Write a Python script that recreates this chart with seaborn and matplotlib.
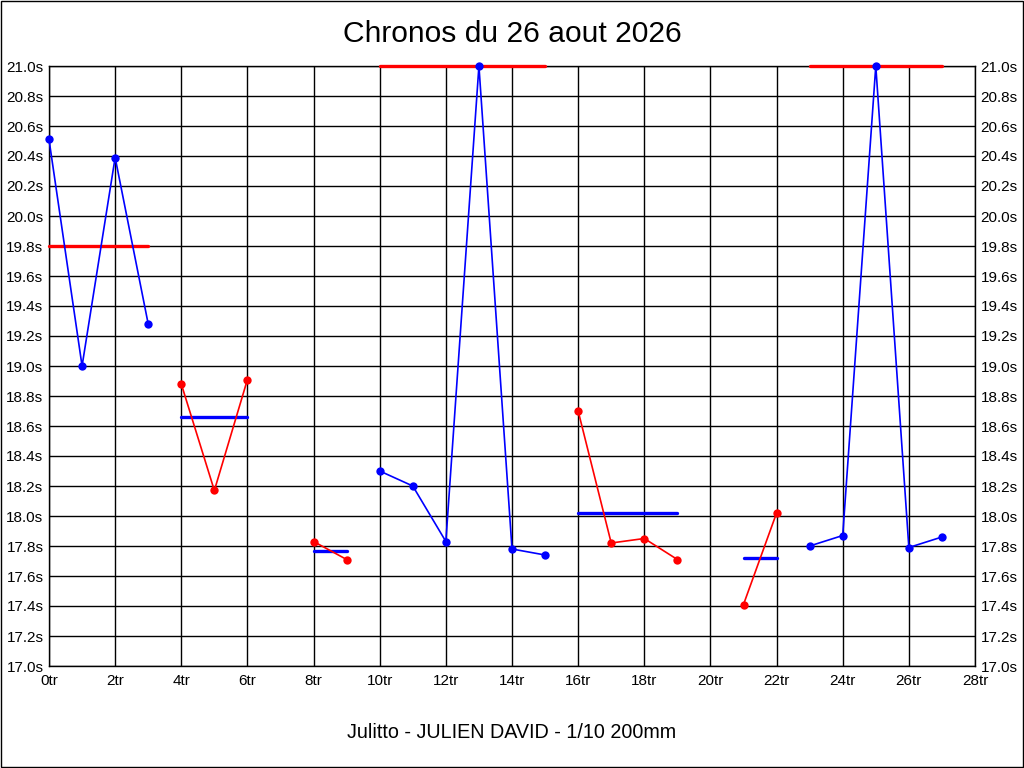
import matplotlib
matplotlib.use("Agg")
import matplotlib.pyplot as plt
import numpy as np
import pandas as pd
import seaborn as sns
from matplotlib.patches import Rectangle
from matplotlib.ticker import MultipleLocator, FuncFormatter

# Chronos par série (tour de départ, temps en secondes)
group_start = [0, 4, 8, 10, 16, 21, 23]
group_times = [
    [20.51, 19.00, 20.39, 19.28],
    [18.88, 18.17, 18.91],
    [17.83, 17.71],
    [18.30, 18.20, 17.83, 21.00, 17.78, 17.74],
    [18.70, 17.82, 17.85, 17.71],
    [17.41, 18.02],
    [17.80, 17.87, 21.00, 17.79, 17.86],
]
group_means = [19.80, 18.66, 17.77, 21.00, 18.02, 17.72, 21.00]
line_colors = ["blue", "red", "red", "blue", "red", "red", "blue"]
mean_colors = ["red", "blue", "blue", "red", "blue", "blue", "red"]

title = "Chronos du 26 aout 2026"
footer = "Julitto - JULIEN DAVID - 1/10 200mm"

sns.set_style("white")
plt.rcParams['font.family'] = ['Liberation Sans', 'DejaVu Sans']
plt.rcParams['text.color'] = 'black'

fig = plt.figure(figsize=(10.24, 7.68), dpi=100)
ax = fig.add_axes([49 / 1024, 1 - 666 / 768, 926 / 1024, 600 / 768])

for i, times in enumerate(group_times):
    tours = np.arange(group_start[i], group_start[i] + len(times))
    df = pd.DataFrame({"tour": tours, "temps": times})
    sns.lineplot(data=df, x="tour", y="temps", ax=ax, color=line_colors[i],
                 marker="o", markersize=6, markeredgewidth=0, linewidth=1.2,
                 clip_on=False, zorder=4)
    mdf = pd.DataFrame({"tour": [tours[0], tours[-1]],
                        "temps": [group_means[i], group_means[i]]})
    sns.lineplot(data=mdf, x="tour", y="temps", ax=ax, color=mean_colors[i],
                 linewidth=2.4, clip_on=False, zorder=3)

ax.set_xlim(0, 28)
ax.set_ylim(17.0, 21.0)
ax.xaxis.set_major_locator(MultipleLocator(2))
ax.yaxis.set_major_locator(MultipleLocator(0.2))
ax.xaxis.set_major_formatter(FuncFormatter(lambda v, p: f"{int(round(v))}tr"))
ax.yaxis.set_major_formatter(FuncFormatter(lambda v, p: f"{v:.1f}s"))
ax.grid(True, color="black", linewidth=1.0)
ax.set_axisbelow(True)
for s in ax.spines.values():
    s.set_color("black")
    s.set_linewidth(1.0)
ax.tick_params(axis="both", length=0, labelsize=11, colors="black")
ax.tick_params(axis="y", labelleft=True, labelright=True, pad=4)
ax.tick_params(axis="x", pad=6)
ax.set_xlabel("")
ax.set_ylabel("")

fig.text(0.5, 1 - 34 / 768, title, ha="center", va="center", fontsize=21.6, color="black")
fig.text(0.5, 1 - 733 / 768, footer, ha="center", va="center", fontsize=14.2, color="black")
fig.patches.append(Rectangle((0.0005, 0.0007), 0.999, 0.9986, transform=fig.transFigure,
                             fill=False, edgecolor="black", linewidth=1.0))

fig.savefig("out.png", dpi=100)
